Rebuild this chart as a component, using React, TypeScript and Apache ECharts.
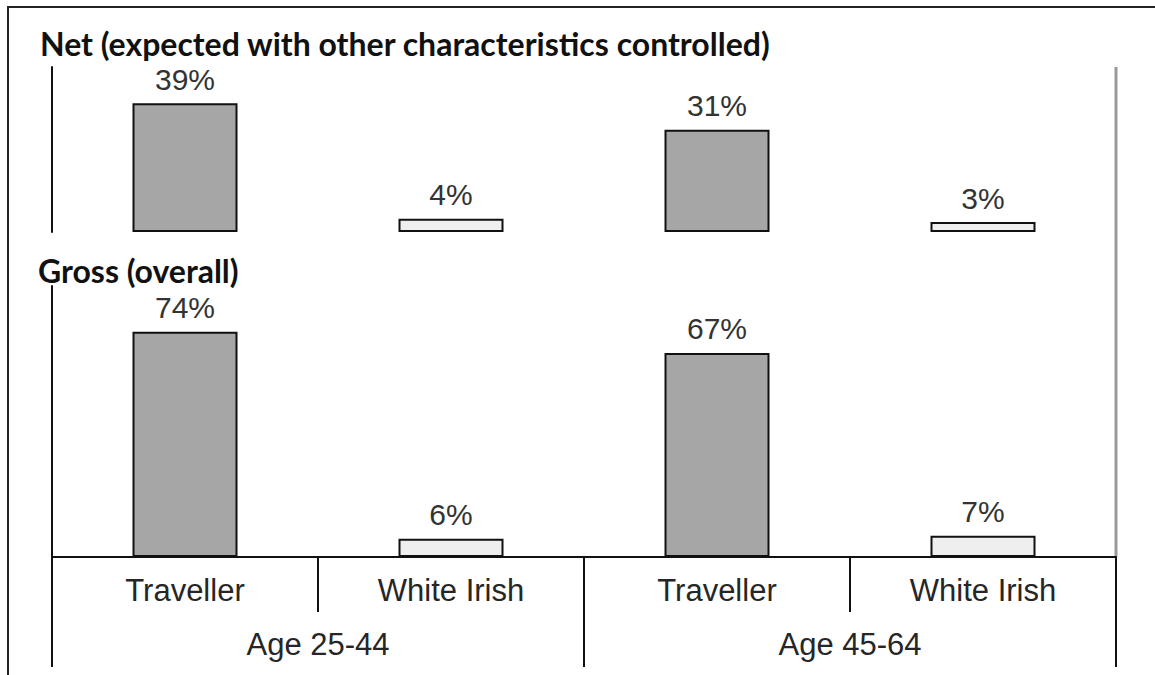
import React, { useEffect, useRef } from "react";
import * as echarts from "echarts";

const categories = ["Traveller", "White Irish", "Traveller", "White Irish"];
const groups = ["Age 25-44", "Age 45-64"];
const netValues = [39, 4, 31, 3];
const grossValues = [74, 6, 67, 7];
const barColors = ["#a6a6a6", "#efefef", "#a6a6a6", "#efefef"];
const panelTitles = ["Net (expected with other characteristics controlled)", "Gross (overall)"];

const labelFont = "'Liberation Sans', Arial, sans-serif";
const titleFont = "Lato, 'Open Sans', sans-serif";

function makeData(values: number[]) {
  return values.map((v, i) => ({
    value: v,
    itemStyle: { color: barColors[i], borderColor: "#111", borderWidth: 2 },
  }));
}

export default function App() {
  const ref = useRef<HTMLDivElement>(null);
  useEffect(() => {
    if (!ref.current) return;
    const chart = echarts.init(ref.current, null, { renderer: "svg" });
    const barLabel = {
      show: true,
      position: "top",
      distance: 9,
      formatter: "{c}%",
      fontSize: 30,
      fontFamily: labelFont,
      color: "#333",
    };
    const titleStyle = { fontFamily: titleFont, fontWeight: "bold", fontSize: 32, color: "#111" };
    chart.setOption({
      animation: false,
      backgroundColor: "#fff",
      title: [
        { text: panelTitles[0], left: 40, top: 27, padding: 0, textStyle: titleStyle },
        { text: panelTitles[1], left: 38, top: 254, padding: 0, textStyle: titleStyle },
      ],
      grid: [
        { left: 52, right: 39, top: 67, height: 165 },
        { left: 52, right: 39, top: 286, height: 271 },
      ],
      xAxis: [
        {
          type: "category",
          gridIndex: 0,
          data: categories,
          axisLine: { show: false },
          axisTick: { show: false },
          axisLabel: { show: false },
        },
        {
          type: "category",
          gridIndex: 1,
          data: categories,
          position: "bottom",
          axisLine: { show: true, lineStyle: { color: "#111", width: 2 } },
          axisTick: { show: true, length: 55, lineStyle: { color: "#111", width: 2 } },
          axisLabel: { margin: 18, fontSize: 31, fontFamily: labelFont, color: "#262626" },
        },
        {
          type: "category",
          gridIndex: 1,
          data: groups,
          position: "bottom",
          axisLine: { show: false },
          axisTick: { show: true, length: 110, lineStyle: { color: "#111", width: 2 } },
          axisLabel: { margin: 72, fontSize: 31, fontFamily: labelFont, color: "#262626" },
        },
      ],
      yAxis: [
        {
          type: "value",
          gridIndex: 0,
          min: 0,
          max: 50,
          axisLine: { show: true, lineStyle: { color: "#111", width: 2 } },
          axisTick: { show: false },
          axisLabel: { show: false },
          splitLine: { show: false },
        },
        {
          type: "value",
          gridIndex: 1,
          min: 0,
          max: 89,
          axisLine: { show: true, lineStyle: { color: "#111", width: 2 } },
          axisTick: { show: false },
          axisLabel: { show: false },
          splitLine: { show: false },
        },
      ],
      series: [
        {
          type: "bar",
          xAxisIndex: 0,
          yAxisIndex: 0,
          barWidth: 105,
          data: makeData(netValues),
          label: barLabel,
        },
        {
          type: "bar",
          xAxisIndex: 1,
          yAxisIndex: 1,
          barWidth: 105,
          data: makeData(grossValues),
          label: barLabel,
        },
      ],
      graphic: [
        {
          type: "rect",
          shape: { x: 8, y: 7, width: 1170, height: 690 },
          style: { fill: "none", stroke: "#222", lineWidth: 2 },
          silent: true,
        },
        {
          type: "line",
          shape: { x1: 1116, y1: 67, x2: 1116, y2: 557 },
          style: { stroke: "#999", lineWidth: 3 },
          silent: true,
        },
      ],
    });
    return () => chart.dispose();
  }, []);
  return (
    <div
      ref={ref}
      style={{ position: "fixed", left: 0, top: 0, width: 1155, height: 675 }}
    />
  );
}
